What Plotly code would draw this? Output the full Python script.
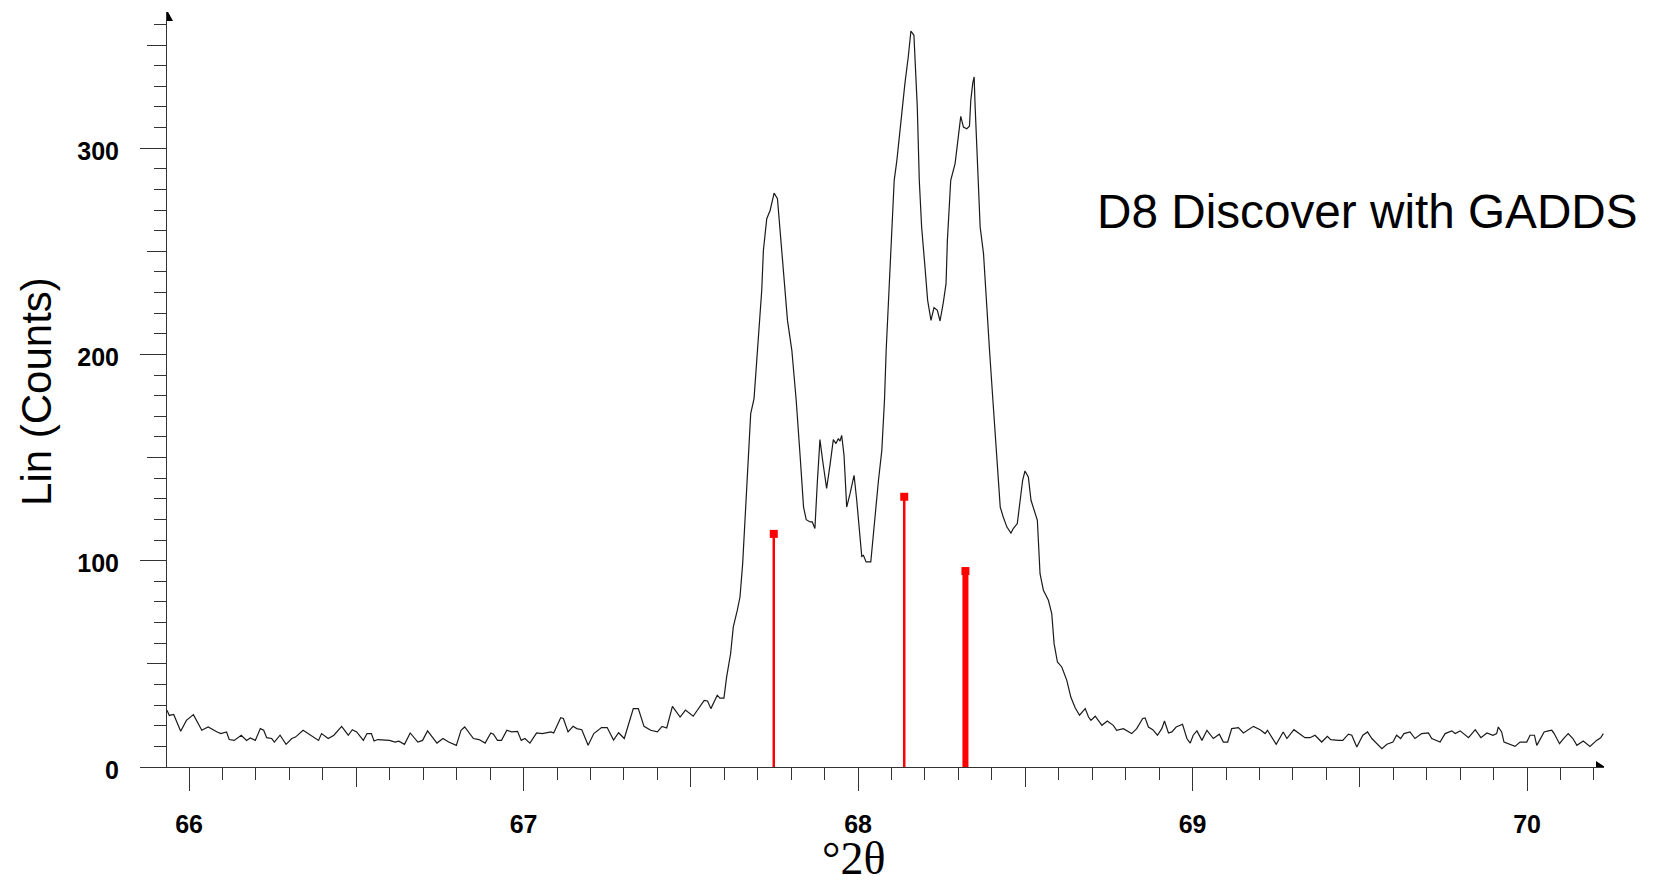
import plotly.graph_objects as go

# ---------------- data ----------------
two_theta = [
    65.934, 65.941, 65.954, 65.975, 65.992, 66.013, 66.038, 66.057, 66.084, 66.095,
    66.112, 66.120, 66.135, 66.156, 66.172, 66.183, 66.198, 66.213, 66.223, 66.232,
    66.247, 66.255, 66.272, 66.290, 66.307, 66.318, 66.341, 66.355, 66.375, 66.387,
    66.396, 66.416, 66.433, 66.456, 66.476, 66.488, 66.501, 66.521, 66.532, 66.545,
    66.553, 66.564, 66.599, 66.616, 66.627, 66.644, 66.661, 66.684, 66.698, 66.713,
    66.741, 66.759, 66.776, 66.799, 66.813, 66.824, 66.850, 66.867, 66.885, 66.902,
    66.910, 66.922, 66.934, 66.950, 66.964, 66.982, 66.993, 67.004, 67.019, 67.039,
    67.056, 67.073, 67.082, 67.090, 67.111, 67.119, 67.133, 67.148, 67.159, 67.174,
    67.193, 67.210, 67.233, 67.250, 67.269, 67.284, 67.301, 67.328, 67.343, 67.360,
    67.380, 67.400, 67.414, 67.428, 67.445, 67.468, 67.484, 67.507, 67.526, 67.540,
    67.550, 67.560, 67.579, 67.587, 67.599, 67.607, 67.619, 67.627, 67.639, 67.647,
    67.655, 67.662, 67.667, 67.674, 67.679, 67.689, 67.697, 67.705, 67.712, 67.717,
    67.727, 67.737, 67.749, 67.759, 67.767, 67.777, 67.789, 67.802, 67.815, 67.827,
    67.837, 67.845, 67.857, 67.863, 67.871, 67.878, 67.886, 67.894, 67.906, 67.916,
    67.926, 67.934, 67.941, 67.946, 67.951, 67.958, 67.966, 67.976, 67.988, 67.996,
    68.004, 68.011, 68.016, 68.024, 68.038, 68.044, 68.051, 68.061, 68.071, 68.079,
    68.084, 68.091, 68.101, 68.108, 68.116, 68.123, 68.134, 68.140, 68.150, 68.158,
    68.167, 68.170, 68.177, 68.183, 68.190, 68.200, 68.208, 68.218, 68.227, 68.237,
    68.245, 68.255, 68.263, 68.267, 68.277, 68.290, 68.300, 68.307, 68.315, 68.325,
    68.333, 68.337, 68.343, 68.347, 68.350, 68.357, 68.365, 68.375, 68.383, 68.393,
    68.403, 68.410, 68.416, 68.425, 68.434, 68.445, 68.457, 68.464, 68.476, 68.484,
    68.492, 68.499, 68.509, 68.517, 68.524, 68.536, 68.544, 68.554, 68.569, 68.579,
    68.586, 68.596, 68.609, 68.624, 68.636, 68.649, 68.662, 68.679, 68.689, 68.696,
    68.709, 68.729, 68.745, 68.763, 68.773, 68.793, 68.818, 68.833, 68.851, 68.858,
    68.868, 68.881, 68.895, 68.908, 68.916, 68.928, 68.938, 68.951, 68.970, 68.983,
    68.993, 69.002, 69.013, 69.028, 69.043, 69.062, 69.080, 69.092, 69.105, 69.117,
    69.137, 69.152, 69.182, 69.202, 69.217, 69.224, 69.250, 69.271, 69.282, 69.303,
    69.336, 69.351, 69.366, 69.386, 69.403, 69.413, 69.436, 69.449, 69.466, 69.476,
    69.491, 69.509, 69.523, 69.536, 69.566, 69.581, 69.599, 69.610, 69.622, 69.632,
    69.650, 69.665, 69.685, 69.705, 69.715, 69.740, 69.755, 69.775, 69.785, 69.800,
    69.825, 69.845, 69.862, 69.880, 69.898, 69.909, 69.914, 69.924, 69.931, 69.947,
    69.964, 69.979, 69.999, 70.009, 70.022, 70.029, 70.044, 70.051, 70.064, 70.074,
    70.081, 70.097, 70.109, 70.123, 70.137, 70.149, 70.168, 70.188, 70.208, 70.220,
    70.228,
]
counts = [
    27.5, 25.0, 25.5, 17.3, 22.6, 25.4, 17.8, 19.4, 17.0, 16.2,
    17.0, 13.3, 12.9, 15.4, 12.9, 14.1, 12.9, 18.6, 17.8, 14.2,
    13.8, 12.1, 15.4, 11.0, 13.8, 14.5, 17.8, 16.2, 14.2, 12.9,
    16.2, 13.8, 15.4, 19.7, 15.4, 18.1, 17.0, 12.9, 16.2, 16.2,
    12.6, 13.3, 12.9, 12.1, 12.5, 11.0, 16.5, 12.1, 12.9, 17.5,
    11.6, 13.8, 12.1, 10.5, 17.8, 19.4, 13.8, 13.3, 11.6, 16.5,
    15.9, 12.9, 12.9, 17.8, 17.0, 17.3, 12.9, 13.8, 11.6, 16.5,
    16.2, 16.5, 17.0, 16.5, 23.9, 23.5, 17.0, 19.7, 18.6, 18.1,
    10.5, 16.2, 19.1, 19.1, 13.1, 16.6, 13.8, 28.3, 28.3, 19.7,
    17.8, 17.0, 19.7, 18.9, 29.4, 24.2, 27.6, 24.6, 29.2, 32.3,
    32.0, 28.3, 34.8, 33.4, 33.4, 43.6, 55.0, 67.9, 76.0, 82.4,
    98.6, 121.2, 137.4, 161.6, 171.3, 178.6, 197.1, 216.5, 231.1, 250.5,
    265.8, 269.8, 278.2, 275.5, 258.6, 239.2, 216.5, 202.0, 177.8, 150.3,
    126.0, 119.9, 118.8, 118.8, 115.6, 137.4, 158.7, 148.7, 135.0, 146.2,
    158.7, 156.8, 159.2, 158.0, 160.8, 151.1, 126.0, 132.5, 141.4, 129.3,
    113.1, 102.1, 102.6, 99.4, 99.4, 109.9, 124.4, 139.0, 153.5, 178.0,
    202.0, 226.2, 258.6, 284.4, 294.1, 305.4, 323.2, 331.3, 344.2, 356.8,
    354.7, 344.2, 320.0, 284.4, 261.8, 242.4, 226.2, 216.5, 222.7, 221.4,
    216.2, 225.4, 234.3, 255.3, 284.4, 292.5, 305.4, 315.4, 310.2, 309.4,
    310.6, 323.2, 331.6, 334.5, 320.0, 294.1, 261.8, 248.9, 226.2, 202.0,
    178.0, 161.6, 145.4, 126.0, 121.2, 116.3, 113.4, 115.6, 118.0, 127.7,
    139.0, 143.5, 140.6, 129.3, 126.0, 119.6, 93.7, 85.7, 80.8, 74.4,
    59.8, 50.9, 48.5, 42.0, 33.9, 28.7, 25.1, 28.3, 24.2, 22.6,
    24.6, 20.2, 22.3, 20.2, 17.8, 18.6, 16.2, 18.6, 23.5, 23.8,
    19.4, 18.1, 15.4, 18.6, 22.3, 16.5, 17.0, 19.4, 20.7, 13.8,
    11.6, 15.4, 17.5, 12.9, 17.8, 13.8, 15.9, 12.1, 12.1, 18.6,
    19.1, 16.5, 19.7, 18.1, 16.2, 17.8, 11.0, 17.0, 13.8, 18.1,
    14.2, 14.2, 15.4, 12.1, 14.9, 13.3, 12.9, 12.9, 15.9, 15.4,
    9.7, 15.4, 17.0, 13.8, 8.9, 11.0, 12.1, 15.4, 13.8, 16.2,
    17.0, 13.8, 16.2, 16.5, 13.8, 12.1, 16.2, 17.5, 16.2, 17.5,
    14.2, 18.1, 14.2, 16.5, 15.4, 16.2, 19.4, 17.0, 12.1, 11.0,
    10.0, 12.1, 12.1, 15.4, 15.4, 10.5, 15.4, 17.0, 17.5, 17.8,
    16.2, 11.3, 13.8, 16.2, 13.8, 10.5, 12.6, 10.0, 12.9, 14.2,
    16.2,
]

# reference pattern sticks
stick_pos = [67.748, 68.138, 68.321]
stick_int = [113, 131, 95]
stick_w = [2.5, 2.5, 6]

x_range = [65.934, 70.230]
y_range = [0, 366]
x_major_ticks = [66, 67, 68, 69, 70]
x_half_ticks = [66.5, 67.5, 68.5, 69.5]
y_major_ticks = [0, 100, 200, 300]
y_half_ticks = [50, 150, 250, 350]

AX = "#333333"
tickfont = dict(family="Liberation Sans, Arial, sans-serif", size=25, color="black", weight="bold")

fig = go.Figure()

fig.add_trace(go.Scatter(x=two_theta, y=counts, mode="lines",
                         line=dict(color="#1a1a1a", width=1.2),
                         showlegend=False, hoverinfo="skip"))

for p, h, w in zip(stick_pos, stick_int, stick_w):
    fig.add_trace(go.Scatter(x=[p, p], y=[0, h], mode="lines",
                             line=dict(color="#ff0000", width=w),
                             showlegend=False, hoverinfo="skip"))
fig.add_trace(go.Scatter(x=stick_pos, y=stick_int, mode="markers",
                         marker=dict(symbol="square", size=8, color="#ff0000", line=dict(width=0)),
                         showlegend=False, hoverinfo="skip"))

# dummy trace to make the overlay axes render
fig.add_trace(go.Scatter(x=[None], y=[None], xaxis="x2", yaxis="y2",
                         showlegend=False, hoverinfo="skip"))

fig.update_layout(
    width=1656, height=884,
    margin=dict(l=167, r=52, t=12, b=117),
    paper_bgcolor="white", plot_bgcolor="white",
    xaxis=dict(range=x_range, showgrid=False, zeroline=False,
               showline=True, linecolor=AX, linewidth=1,
               ticks="outside", tickmode="array", tickvals=x_major_ticks,
               ticktext=[str(v) for v in x_major_ticks],
               ticklen=23, tickwidth=1, tickcolor=AX,
               tickfont=tickfont, ticklabelstandoff=12,
               minor=dict(ticks="outside", dtick=0.1, tick0=66, ticklen=12,
                          tickwidth=1, tickcolor=AX, showgrid=False)),
    xaxis2=dict(range=x_range, overlaying="x", anchor="y", side="bottom",
                showgrid=False, zeroline=False, showline=False,
                ticks="outside", tickmode="array", tickvals=x_half_ticks,
                ticklen=19, tickwidth=1, tickcolor=AX, showticklabels=False),
    yaxis=dict(range=y_range, showgrid=False, zeroline=False,
               showline=True, linecolor=AX, linewidth=1,
               ticks="outside", tickmode="array", tickvals=y_major_ticks,
               ticktext=[str(v) for v in y_major_ticks],
               ticklen=26, tickwidth=1, tickcolor=AX,
               tickfont=tickfont, ticklabelstandoff=16, ticklabelshift=3,
               minor=dict(ticks="outside", dtick=10, tick0=0, ticklen=12,
                          tickwidth=1, tickcolor=AX, showgrid=False)),
    yaxis2=dict(range=y_range, overlaying="y", anchor="x", side="left",
                showgrid=False, zeroline=False, showline=False,
                ticks="outside", tickmode="array", tickvals=y_half_ticks,
                ticklen=19, tickwidth=1, tickcolor=AX, showticklabels=False),
)

# arrow heads at axis ends
fig.add_shape(type="path", xref="x", yref="y", xsizemode="pixel", ysizemode="pixel",
              xanchor=x_range[0], yanchor=y_range[1],
              path="M 0 2 L 0 -9 L 6 -9 Z", fillcolor="black", line=dict(width=0))
fig.add_shape(type="path", xref="x", yref="y", xsizemode="pixel", ysizemode="pixel",
              xanchor=x_range[1], yanchor=y_range[0],
              path="M -8 0 L -8 6 L 1 0 Z", fillcolor="black", line=dict(width=0))

fig.add_annotation(text="Lin (Counts)", xref="paper", yref="paper",
                   x=-0.0912, y=0.498, xanchor="center", yanchor="middle",
                   textangle=-90, showarrow=False,
                   font=dict(family="Liberation Sans, Arial, sans-serif", size=42, color="black"))
fig.add_annotation(text="°2θ", xref="paper", yref="paper",
                   x=0.4774, y=-0.121, xanchor="center", yanchor="middle",
                   showarrow=False,
                   font=dict(family="Liberation Serif, Times New Roman, serif", size=46, color="black"))
fig.add_annotation(text="D8 Discover with GADDS", xref="paper", yref="paper",
                   x=0.6458, y=0.7364, xanchor="left", yanchor="middle",
                   showarrow=False,
                   font=dict(family="Liberation Sans, Arial, sans-serif", size=47.7, color="black"))

fig.write_html("out.html")
